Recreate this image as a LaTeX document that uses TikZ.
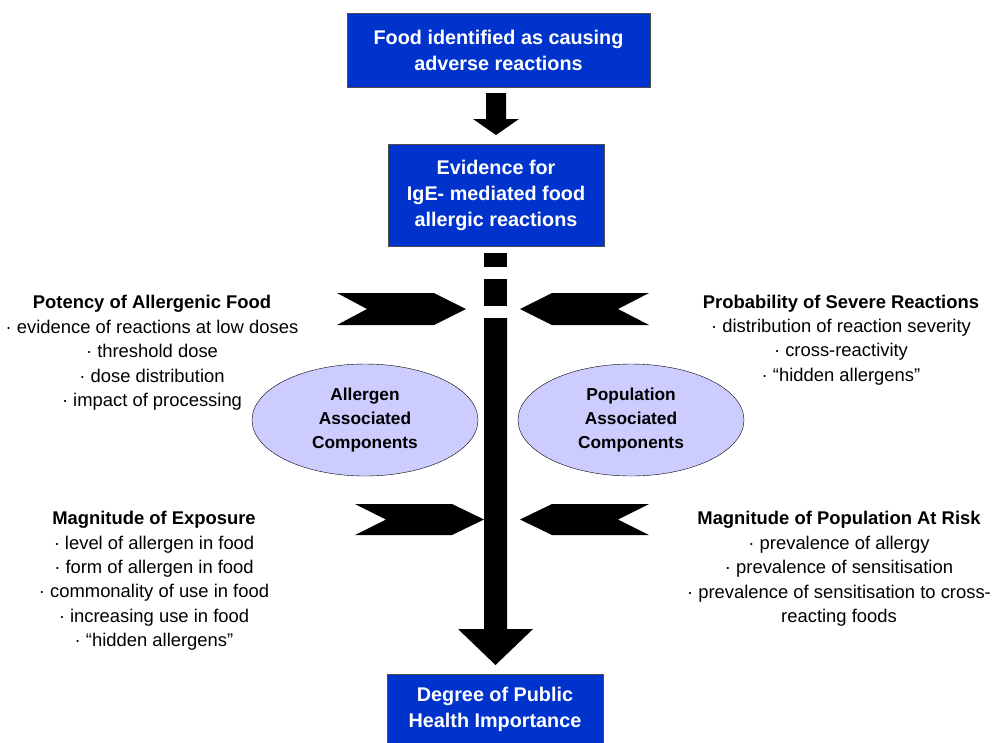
\documentclass[tikz,border=0pt]{standalone}
\usepackage{fontspec}
\setmainfont{Liberation Sans}
\usetikzlibrary{shapes.geometric}

\definecolor{boxblue}{HTML}{0033CC}
\definecolor{lavender}{HTML}{CCCCFF}

\begin{document}
\begin{tikzpicture}[x=1pt,y=-1pt,
  bluebox/.style={draw=black!70,fill=boxblue,text=white,align=center,
    font=\fontsize{19.8}{26}\selectfont\bfseries,inner sep=0pt},
  oval/.style={ellipse,draw,fill=lavender,align=center,inner sep=0pt,
    minimum width=226,minimum height=112,font=\fontsize{17.3}{24}\selectfont\bfseries},
  factor/.style={align=center,inner sep=0pt,font=\fontsize{18.4}{24.4}\selectfont}]
\useasboundingbox (0,0) rectangle (992,742);

\node[bluebox,minimum width=303,minimum height=74] (food) at (498.5,50)
  {Food identified as causing\\adverse reactions};
\node[bluebox,minimum width=216,minimum height=102] (evidence) at (496,195)
  {Evidence for\\IgE- mediated food\\allergic reactions};
\node[bluebox,minimum width=216,minimum height=70,anchor=north] (health) at (495,674)
  {Degree of Public\\Health Importance};

\fill (486,93)--(506,93)--(506,119)--(519,119)--(496,135)--(473,119)--(486,119)--cycle;

\fill (484,253) rectangle (507,267);
\fill (484,279) rectangle (507,306);
\fill (484,318)--(507,318)--(507,629)--(533,629)--(495.5,665)--(458,629)--(484,629)--cycle;

\fill (337,293)--(434,293)--(466,309)--(434,325)--(337,325)--(367,309)--cycle;
\fill (649,293)--(552,293)--(520,309)--(552,325)--(649,325)--(618,309)--cycle;
\fill (355,504)--(452,504)--(484,519.5)--(452,535)--(355,535)--(386,519.5)--cycle;
\fill (649,504)--(552,504)--(520,519.5)--(552,535)--(649,535)--(618,519.5)--cycle;

\node[oval] (allergen) at (365,420) {Allergen\\Associated\\Components};
\node[oval] (population) at (631,420) {Population\\Associated\\Components};

\node[factor] (potency) at (152,353)
  {{\bfseries Potency of Allergenic Food}\\
   · evidence of reactions at low doses\\
   · threshold dose\\
   · dose distribution\\
   · impact of processing};
\node[factor] (severe) at (841,340)
  {{\bfseries Probability of Severe Reactions}\\
   · distribution of reaction severity\\
   · cross-reactivity\\
   · “hidden allergens”};
\node[factor] (exposure) at (154,581)
  {{\bfseries Magnitude of Exposure}\\
   · level of allergen in food\\
   · form of allergen in food\\
   · commonality of use in food\\
   · increasing use in food\\
   · “hidden allergens”};
\node[factor] (atrisk) at (839,569)
  {{\bfseries Magnitude of Population At Risk}\\
   · prevalence of allergy\\
   · prevalence of sensitisation\\
   · prevalence of sensitisation to cross-\\
   reacting foods};

\end{tikzpicture}
\end{document}
